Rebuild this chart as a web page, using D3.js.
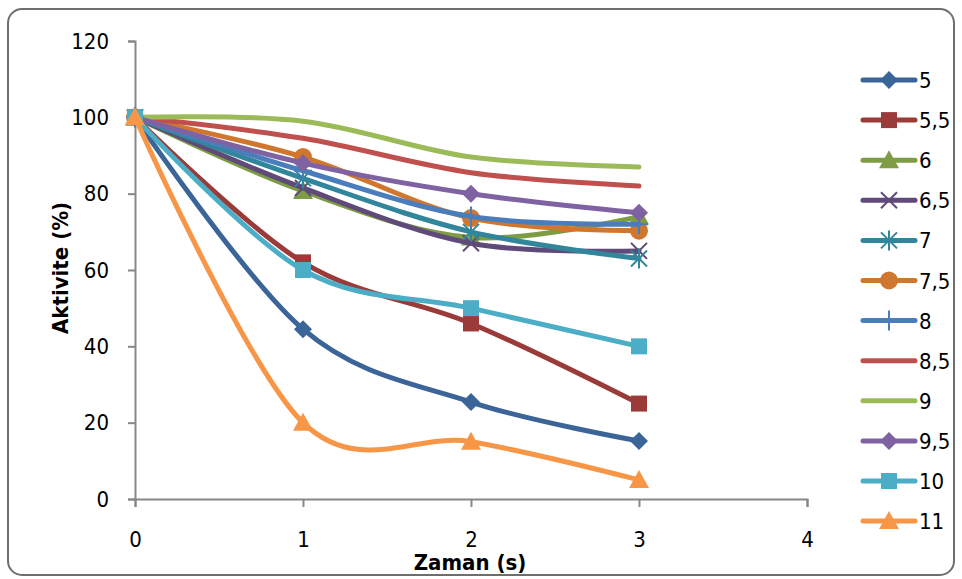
<!DOCTYPE html>
<html>
<head>
<meta charset="utf-8">
<script src="https://cdn.jsdelivr.net/npm/d3@7"></script>
<style>
  body { margin: 0; background: #fff; }
  text { font-family: "Liberation Sans Narrow", "DejaVu Sans Condensed", "Open Sans", sans-serif; }
</style>
</head>
<body>
<script>
// data
const times = [0, 1, 2, 3];
const seriesNames = ["5", "5,5", "6", "6,5", "7", "7,5", "8", "8,5", "9", "9,5", "10", "11"];
const s5   = [100, 44.5, 25.4, 15.2];
const s55  = [100, 62, 46, 25];
const s6   = [100, 80.7, 68.5, 74];
const s65  = [100, 81.5, 67, 65];
const s7   = [100, 84, 70, 63];
const s75  = [100, 89.6, 73.6, 70.3];
const s8   = [100, 86, 74, 72];
const s85  = [100, 94.5, 85.5, 82];
const s9   = [100, 99, 89.6, 87];
const s95  = [100, 88, 80, 75];
const s10  = [100, 60, 50, 40];
const s11  = [100, 20, 15, 5];
const seriesValues = [s5, s55, s6, s65, s7, s75, s8, s85, s9, s95, s10, s11];
const colors = ["#3b6598", "#9a3b39", "#7d9c44", "#5f4a7a", "#31869b", "#d0772f",
                "#4a7dbb", "#c0504d", "#9bbb59", "#7f62a1", "#4badc6", "#f79646"];
const markers = ["diamond", "square", "triangle", "x", "asterisk", "circle",
                 "plus", "none", "none", "diamond", "square", "triangle"];
const xTicks = [0, 1, 2, 3, 4];
const yTicks = [0, 20, 40, 60, 80, 100, 120];

const W = 962, H = 579;
const svg = d3.select("body").append("svg").attr("width", W).attr("height", H);

// outer rounded frame
svg.append("rect")
    .attr("x", 8).attr("y", 9).attr("width", W - 16).attr("height", H - 13)
    .attr("rx", 14).attr("ry", 14)
    .attr("fill", "#fff").attr("stroke", "#6e6e6e").attr("stroke-width", 2);

const x = d3.scaleLinear().domain([0, 4]).range([135, 807]);
const y = d3.scaleLinear().domain([0, 120]).range([499, 41]);
const axisColor = "#878787";

// y axis
const gy = svg.append("g").attr("transform", `translate(${x(0)},0)`)
    .call(d3.axisLeft(y).tickValues(yTicks).tickSize(7).tickPadding(19));
gy.select(".domain").attr("stroke", axisColor).attr("stroke-width", 2);
gy.selectAll(".tick line").attr("stroke", axisColor).attr("stroke-width", 2);
gy.selectAll(".tick text").attr("font-size", 22).attr("fill", "#000");

// x axis
const gx = svg.append("g").attr("transform", `translate(0,${y(0)})`)
    .call(d3.axisBottom(x).tickValues(xTicks).tickFormat(d3.format("d")).tickSize(8).tickPadding(24));
gx.select(".domain").attr("stroke", axisColor).attr("stroke-width", 2);
gx.selectAll(".tick line").attr("stroke", axisColor).attr("stroke-width", 2);
gx.selectAll(".tick text").attr("font-size", 22).attr("fill", "#000");

// axis titles
svg.append("text")
    .attr("x", 470).attr("y", 570)
    .attr("text-anchor", "middle")
    .attr("font-size", 22).attr("font-weight", "bold")
    .text("Zaman (s)");
svg.append("text")
    .attr("transform", "translate(68,268) rotate(-90)")
    .attr("text-anchor", "middle")
    .attr("font-size", 22).attr("font-weight", "bold")
    .text("Aktivite (%)");

// marker drawing helper
function drawMarker(g, type, cx, cy, color) {
  const s = 8;
  if (type === "diamond") {
    g.append("path").attr("d", `M${cx},${cy - 9}L${cx + 9},${cy}L${cx},${cy + 9}L${cx - 9},${cy}Z`).attr("fill", color);
  } else if (type === "square") {
    g.append("rect").attr("x", cx - s).attr("y", cy - s).attr("width", 2 * s).attr("height", 2 * s).attr("fill", color);
  } else if (type === "triangle") {
    g.append("path").attr("d", `M${cx},${cy - 10}L${cx + 10},${cy + 8}L${cx - 10},${cy + 8}Z`).attr("fill", color);
  } else if (type === "circle") {
    g.append("circle").attr("cx", cx).attr("cy", cy).attr("r", 9).attr("fill", color);
  } else if (type === "x") {
    g.append("path").attr("d", `M${cx - 8},${cy - 8}L${cx + 8},${cy + 8}M${cx - 8},${cy + 8}L${cx + 8},${cy - 8}`)
        .attr("stroke", color).attr("stroke-width", 2);
  } else if (type === "asterisk") {
    g.append("path").attr("d", `M${cx - 8},${cy - 8}L${cx + 8},${cy + 8}M${cx - 8},${cy + 8}L${cx + 8},${cy - 8}M${cx},${cy - 10}L${cx},${cy + 10}`)
        .attr("stroke", color).attr("stroke-width", 2);
  } else if (type === "plus") {
    g.append("path").attr("d", `M${cx},${cy - 10}L${cx},${cy + 10}M${cx - 9},${cy}L${cx + 9},${cy}`)
        .attr("stroke", color).attr("stroke-width", 2);
  }
}

const line = d3.line()
    .x((d, i) => x(times[i]))
    .y(d => y(d))
    .curve(d3.curveCatmullRom.alpha(0));

const plot = svg.append("g");
seriesValues.forEach((vals, k) => {
  const g = plot.append("g");
  g.append("path")
      .attr("d", line(vals))
      .attr("fill", "none")
      .attr("stroke", colors[k])
      .attr("stroke-width", 5)
      .attr("stroke-linecap", "round")
      .attr("stroke-linejoin", "round");
  vals.forEach((v, i) => drawMarker(g, markers[k], x(times[i]), y(v), colors[k]));
});

// legend
const legend = svg.append("g");
seriesNames.forEach((name, k) => {
  const ly = 80 + k * 40.1;
  legend.append("line")
      .attr("x1", 863).attr("x2", 915).attr("y1", ly).attr("y2", ly)
      .attr("stroke", colors[k]).attr("stroke-width", 5).attr("stroke-linecap", "round");
  drawMarker(legend, markers[k], 889, ly, colors[k]);
  legend.append("text")
      .attr("x", 919).attr("y", ly + 8)
      .attr("font-size", 22)
      .text(name);
});
</script>
</body>
</html>
